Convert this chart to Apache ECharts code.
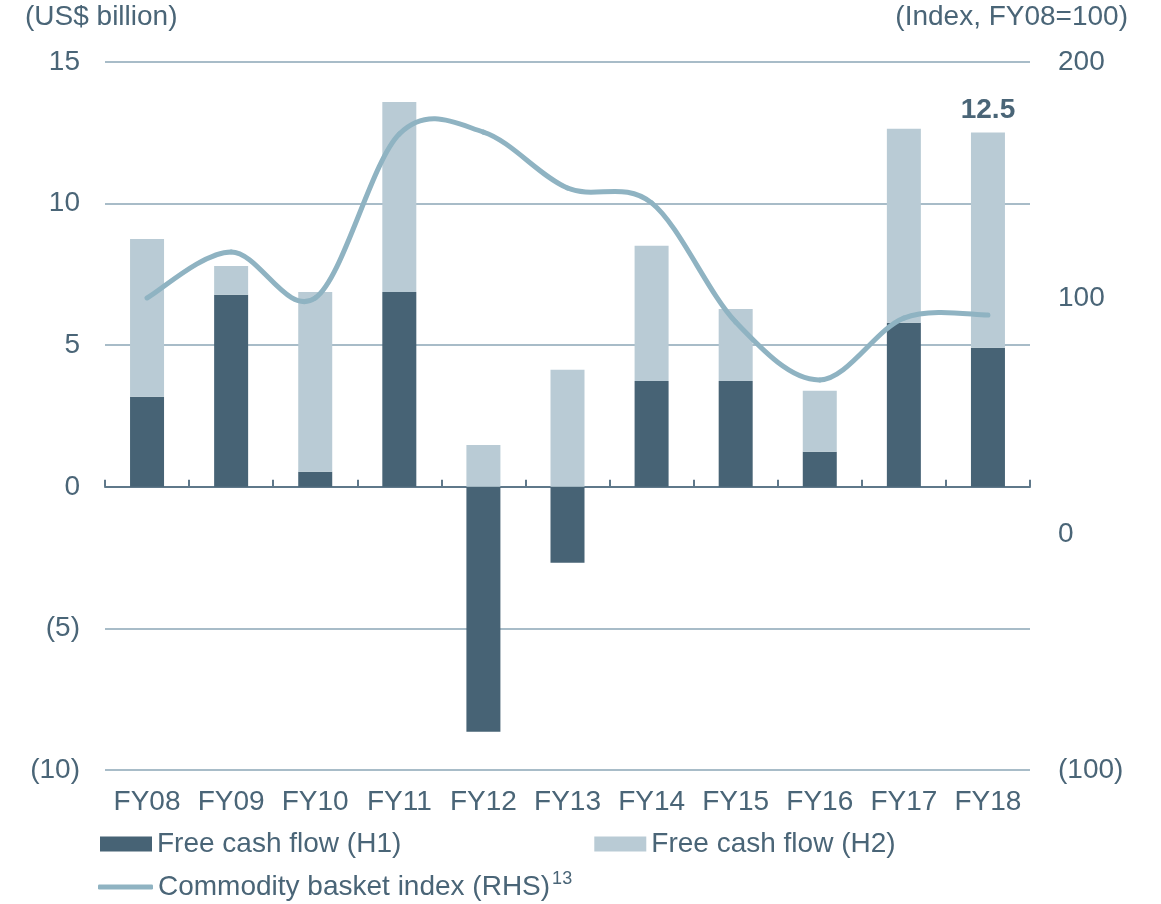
<!DOCTYPE html>
<html>
<head>
<meta charset="utf-8">
<script src="https://cdn.jsdelivr.net/npm/echarts@6/dist/echarts.min.js"></script>
<style>
  html, body { margin: 0; padding: 0; background: #fff; }
  #chart { width: 1161px; height: 904px; }
</style>
</head>
<body>
<div id="chart"></div>
<script>
// categories and values
const years = ['FY08', 'FY09', 'FY10', 'FY11', 'FY12', 'FY13', 'FY14', 'FY15', 'FY16', 'FY17', 'FY18']
const fcfH1 = [3.18, 6.78, 0.53, 6.88, -8.65, -2.68, 3.74, 3.74, 1.24, 5.79, 4.91]
const fcfH2 = [5.57, 1.02, 6.35, 6.71, 1.48, 4.13, 4.77, 2.54, 2.15, 6.85, 7.6]
const basketIndex = [100, 119.5, 100, 169.5, 170.3, 146.6, 140.3, 89.8, 65.3, 91.5, 92.8]

const txt = '#4a6577'
const lineColor = '#8fb3c2'
const font = 'Liberation Sans, Arial, sans-serif'
const fs = 28
const neg = v => v < 0 ? '(' + (-v) + ')' : String(v)

// spreadsheet-style smoothed line (catmull-rom bezier), points come from the axes
function smoothLine(params, api) {
  if (params.dataIndex !== 0) return null
  const p = basketIndex.map((v, i) => api.coord([i, v]))
  const n = p.length
  const segs = []
  for (let i = 0; i < n - 1; i++) {
    const a = p[Math.max(i - 1, 0)], b = p[i], c = p[i + 1], d = p[Math.min(i + 2, n - 1)]
    segs.push({
      type: 'bezierCurve',
      shape: {
        x1: b[0], y1: b[1], x2: c[0], y2: c[1],
        cpx1: b[0] + (c[0] - a[0]) / 6, cpy1: b[1] + (c[1] - a[1]) / 6,
        cpx2: c[0] - (d[0] - b[0]) / 6, cpy2: c[1] - (d[1] - b[1]) / 6
      },
      style: { stroke: lineColor, lineWidth: 5, fill: null, lineCap: 'round' }
    })
  }
  return { type: 'group', children: segs }
}

const chart = echarts.init(document.getElementById('chart'))
chart.setOption({
  animation: false,
  textStyle: { fontFamily: font, color: txt },
  grid: { left: 105, right: 131, top: 62, bottom: 134 },
  graphic: [
    { type: 'text', left: 25, top: 3, style: { text: '(US$ billion)', fontSize: fs, fontFamily: font, fill: txt } },
    { type: 'text', right: 33, top: 3, style: { text: '(Index, FY08=100)', fontSize: fs, fontFamily: font, fill: txt } }
  ],
  legend: [
    {
      left: 95, top: 825, itemWidth: 52, itemHeight: 15, itemGap: 193,
      textStyle: { fontSize: fs, color: txt, fontFamily: font },
      data: [
        { name: 'Free cash flow (H1)', icon: 'rect' },
        { name: 'Free cash flow (H2)', icon: 'rect' }
      ]
    },
    {
      left: 93, top: 865, itemWidth: 55, itemHeight: 5,
      textStyle: {
        fontSize: fs, color: txt, fontFamily: font,
        rich: {
          a: { fontSize: fs, color: txt, fontFamily: font },
          s: { fontSize: 18, color: txt, fontFamily: font, verticalAlign: 'top', padding: [0, 0, 16, 2] }
        }
      },
      formatter: () => '{a|Commodity basket index (RHS)}{s|13}',
      data: [{ name: 'Commodity basket index (RHS)', icon: 'roundRect' }]
    }
  ],
  xAxis: [
    {
      type: 'category', data: years, position: 'bottom',
      axisLine: { show: false, onZero: false }, axisTick: { show: false },
      axisLabel: { fontSize: fs, color: txt, margin: 18, interval: 0 }
    },
    {
      type: 'category', data: years,
      axisLine: { onZero: true, lineStyle: { color: '#5f788a', width: 2 } },
      axisTick: { show: true, length: 7, lineStyle: { color: '#5f788a', width: 2 } },
      axisLabel: { show: false }
    }
  ],
  yAxis: [
    {
      type: 'value', min: -10, max: 15, interval: 5,
      axisLine: { show: false }, axisTick: { show: false },
      axisLabel: { fontSize: fs, color: txt, margin: 25, formatter: neg },
      splitLine: { lineStyle: { color: '#8ba6b6', width: 1.5 } }
    },
    {
      type: 'value', min: -100, max: 200, interval: 100,
      axisLine: { show: false }, axisTick: { show: false },
      axisLabel: { fontSize: fs, color: txt, margin: 28, formatter: neg },
      splitLine: { show: false }
    }
  ],
  series: [
    {
      name: 'Free cash flow (H1)', type: 'bar', stack: 'fcf', barWidth: 34,
      itemStyle: { color: '#476375' },
      data: fcfH1
    },
    {
      name: 'Free cash flow (H2)', type: 'bar', stack: 'fcf', barWidth: 34,
      itemStyle: { color: '#b9cbd5' },
      data: fcfH2.map((v, i) => i === years.length - 1 ? {
        value: v,
        label: {
          show: true, position: 'top', distance: 8,
          fontSize: fs, fontWeight: 'bold', color: txt,
          formatter: () => (fcfH1[i] + fcfH2[i]).toFixed(1)
        }
      } : v)
    },
    {
      name: 'Commodity basket index (RHS)', type: 'custom', xAxisIndex: 0, yAxisIndex: 1,
      itemStyle: { color: lineColor },
      renderItem: smoothLine,
      data: basketIndex.map((v, i) => [i, v]),
      z: 5
    }
  ]
})
</script>
</body>
</html>
